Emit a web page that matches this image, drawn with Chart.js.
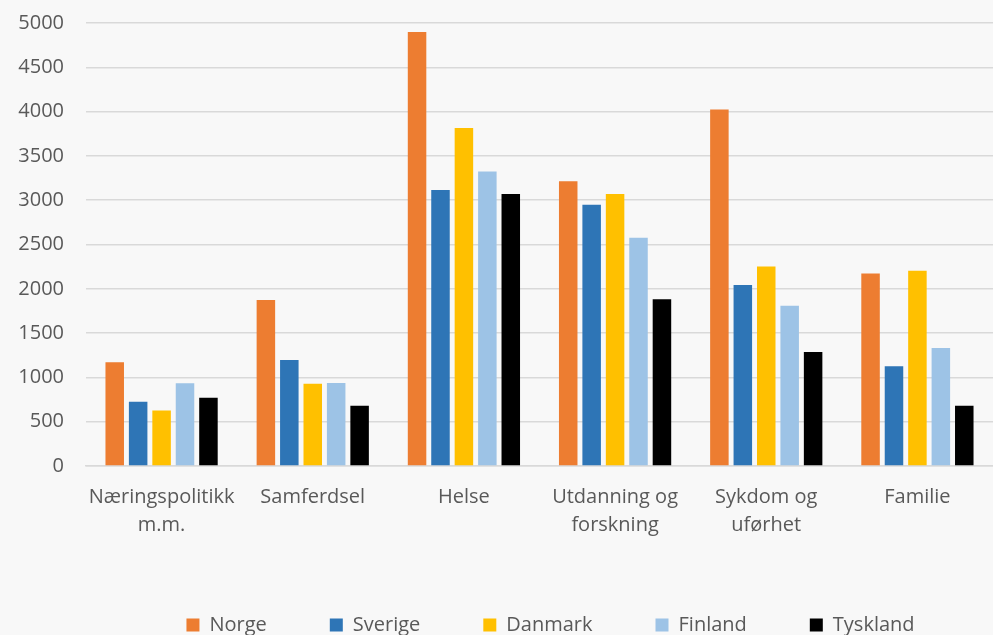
<!DOCTYPE html>
<html>
<head>
<meta charset="utf-8">
<script src="https://cdn.jsdelivr.net/npm/chart.js@4/dist/chart.umd.min.js"></script>
<style>
  html, body { margin: 0; padding: 0; background: #f8f8f8; overflow: hidden; }
  #wrap { width: 993px; height: 656px; margin-top: -11px; }
</style>
</head>
<body>
<div id="wrap"><canvas id="utgiftChart"></canvas></div>
<script>
// kategorier og verdier lest av figuren
const kategorier = [
    ['Næringspolitikk', 'm.m.'],
    'Samferdsel',
    'Helse',
    ['Utdanning og', 'forskning'],
    ['Sykdom og', 'uførhet'],
    'Familie'
];
const norge    = [1170, 1874, 4898, 3215, 4023, 2174];
const sverige  = [724, 1197, 3114, 2948, 2043, 1125];
const danmark  = [626, 927, 3816, 3069, 2253, 2204];
const finland  = [934, 938, 3324, 2576, 1809, 1333];
const tyskland = [769, 679, 3069, 1881, 1287, 679];

const tekstFarge = '#595959';
const gridFarge = '#d9d9d9';

function serie(navn, data, farge) {
    return {
        label: navn,
        data: data,
        backgroundColor: farge,
        borderWidth: 0,
        categoryPercentage: 0.775,
        barPercentage: 0.79
    };
}

// flytter legenden litt mot høyre, som i originalen
const legendeForskyvning = {
    id: 'legendeForskyvning',
    afterLayout: function(chart) {
        if (chart.legend) chart.legend.left += 108;
    }
};

const ctx = document.getElementById('utgiftChart').getContext('2d');
const utgiftChart = new Chart(ctx, {
    type: 'bar',
    data: {
        labels: kategorier,
        datasets: [
            serie('Norge', norge, '#ed7d31'),
            serie('Sverige', sverige, '#2e75b6'),
            serie('Danmark', danmark, '#ffc000'),
            serie('Finland', finland, '#9dc3e6'),
            serie('Tyskland', tyskland, '#000000')
        ]
    },
    options: {
        responsive: true,
        maintainAspectRatio: false,
        animation: false,
        layout: { padding: { top: 1, right: 0, left: 0, bottom: 0 } },
        scales: {
            y: {
                min: 0,
                max: 5000,
                ticks: {
                    stepSize: 500,
                    color: tekstFarge,
                    padding: 22,
                    font: { family: 'Open Sans', size: 20 },
                    callback: function(v) { return String(v); }
                },
                grid: { color: gridFarge, lineWidth: 1.5, drawTicks: false },
                border: { display: false },
                afterFit: function(scale) { scale.width = 86; }
            },
            x: {
                ticks: {
                    color: tekstFarge,
                    padding: 17,
                    maxRotation: 0,
                    font: { family: 'Open Sans', size: 20, lineHeight: 1.4 }
                },
                grid: { display: false, drawTicks: false },
                border: { color: gridFarge, width: 1.5 },
                afterFit: function(scale) { scale.height = 86; }
            }
        },
        plugins: {
            legend: {
                position: 'bottom',
                labels: {
                    color: tekstFarge,
                    boxWidth: 13,
                    boxHeight: 13,
                    padding: 63,
                    font: { family: 'Open Sans', size: 20 }
                }
            },
            tooltip: { enabled: false }
        }
    },
    plugins: [legendeForskyvning]
});
</script>
</body>
</html>
